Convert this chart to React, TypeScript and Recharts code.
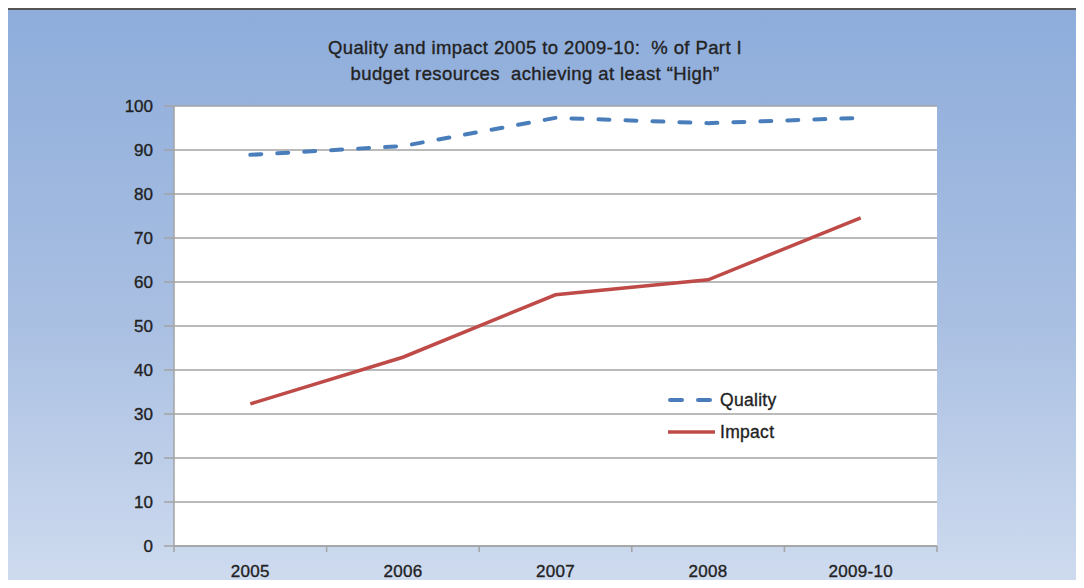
import React from "react";
import { LineChart, Line, XAxis, YAxis, CartesianGrid } from "recharts";

const categories = ["2005", "2006", "2007", "2008", "2009-10"];
const quality = [88.9, 90.9, 97.3, 96.1, 97.3];
const impact = [32.3, 42.9, 57.1, 60.5, 74.6];
const yTicks = [0, 10, 20, 30, 40, 50, 60, 70, 80, 90, 100];
const titleLines = [
  "Quality and impact 2005 to 2009-10:  % of Part I",
  "budget resources  achieving at least \u201cHigh\u201d",
];

const data = categories.map((c, i) => ({ cat: c, quality: quality[i], impact: impact[i] }));

const W = 1084;
const H = 588;
const M = { top: 106, right: 147, bottom: 0, left: 114 };
const Y_AXIS_W = 60;
const X_AXIS_H = 42;
const PLOT_W = W - M.left - M.right - Y_AXIS_W;
const BAND = PLOT_W / categories.length;
const FONT = "'Liberation Sans', Arial, Helvetica, sans-serif";
const TEXT_COLOR = "#222";
const AXIS_COLOR = "#a3a3a3";
const BLUE = "#4a7ebb";
const RED = "#be4b48";

const XTick = (props: any) => {
  const { x, y, payload, index } = props;
  const left = x - BAND / 2;
  const right = x + BAND / 2;
  return (
    <g>
      <line x1={left} y1={y} x2={left} y2={y + 6} stroke={AXIS_COLOR} strokeWidth={1.5} />
      {index === categories.length - 1 && (
        <line x1={right} y1={y} x2={right} y2={y + 6} stroke={AXIS_COLOR} strokeWidth={1.5} />
      )}
      <text
        x={x}
        y={y + 31}
        textAnchor="middle"
        fontFamily={FONT}
        fontSize={17}
        fill={TEXT_COLOR}
        stroke={TEXT_COLOR}
        strokeWidth={0.35}
        letterSpacing={0.3}
      >
        {payload.value}
      </text>
    </g>
  );
};

export default function App() {
  return (
    <div
      style={{
        position: "relative",
        margin: -8,
        width: W,
        height: H,
        overflow: "hidden",
        background: "#fff",
        fontFamily: FONT,
      }}
    >
      <div
        style={{
          position: "absolute",
          left: 6,
          top: 8,
          width: 1110,
          height: 620,
          border: "2px solid #555",
          background: "linear-gradient(to bottom, #8eaddb 0%, #a9bfe2 50%, #d5e0f1 100%)",
        }}
      />
      <div style={{ position: "absolute", left: 0, top: 0 }}>
        <LineChart width={W} height={H} data={data} margin={M}>
          <CartesianGrid
            vertical={false}
            horizontal={true}
            fill="#ffffff"
            stroke={AXIS_COLOR}
            strokeWidth={1.5}
          />
          <XAxis
            dataKey="cat"
            scale="band"
            height={X_AXIS_H}
            tickLine={false}
            tickSize={0}
            tickMargin={0}
            axisLine={{ stroke: AXIS_COLOR, strokeWidth: 1.5 }}
            tick={<XTick />}
            interval={0}
          />
          <YAxis
            width={Y_AXIS_W}
            domain={[0, 100]}
            ticks={yTicks}
            interval={0}
            tickSize={10}
            tickMargin={11}
            tickLine={{ stroke: AXIS_COLOR, strokeWidth: 1.5 }}
            axisLine={{ stroke: AXIS_COLOR, strokeWidth: 1.5 }}
            tick={{
              fill: TEXT_COLOR,
              fontSize: 17,
              fontFamily: FONT,
              stroke: TEXT_COLOR,
              strokeWidth: 0.35,
            }}
          />
          <Line
            type="linear"
            dataKey="quality"
            stroke={BLUE}
            strokeWidth={4}
            strokeDasharray="11 16"
            strokeLinecap="round"
            dot={false}
            activeDot={false}
            isAnimationActive={false}
          />
          <Line
            type="linear"
            dataKey="impact"
            stroke={RED}
            strokeWidth={3.5}
            dot={false}
            activeDot={false}
            isAnimationActive={false}
          />
        </LineChart>
      </div>
      <div
        style={{
          position: "absolute",
          left: 0,
          width: 1070,
          top: 35,
          textAlign: "center",
          fontSize: 18.5,
          letterSpacing: 0.4,
          lineHeight: "26px",
          color: TEXT_COLOR,
          WebkitTextStroke: "0.35px #222",
          whiteSpace: "pre",
        }}
      >
        <div>{titleLines[0]}</div>
        <div>{titleLines[1]}</div>
      </div>
      <div
        style={{
          position: "absolute",
          left: 666,
          top: 388,
          color: TEXT_COLOR,
          fontSize: 17.5,
          letterSpacing: 0.3,
          WebkitTextStroke: "0.35px #222",
        }}
      >
        <div style={{ display: "flex", alignItems: "center", height: 24, marginBottom: 8 }}>
          <svg width={54} height={24}>
            <line x1={4} y1={12} x2={48} y2={12} stroke={BLUE} strokeWidth={4} strokeDasharray="12 16" strokeLinecap="round" />
          </svg>
          <span>Quality</span>
        </div>
        <div style={{ display: "flex", alignItems: "center", height: 24 }}>
          <svg width={54} height={24}>
            <line x1={2} y1={12} x2={49} y2={12} stroke={RED} strokeWidth={3.5} />
          </svg>
          <span>Impact</span>
        </div>
      </div>
    </div>
  );
}
